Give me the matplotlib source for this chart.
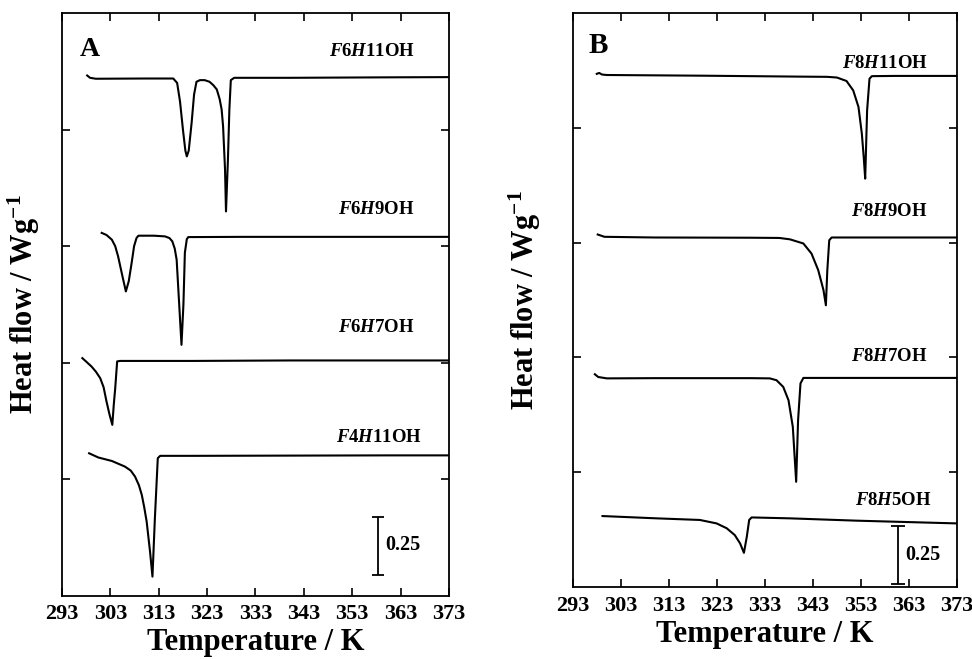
import matplotlib
matplotlib.use("Agg")
import matplotlib.pyplot as plt

plt.rcParams['font.family'] = ['Liberation Serif', 'DejaVu Serif']
plt.rcParams['font.weight'] = 'bold'
plt.rcParams['mathtext.fontset'] = 'custom'
plt.rcParams['mathtext.rm'] = 'Liberation Serif:bold'
plt.rcParams['mathtext.bf'] = 'Liberation Serif:bold'
plt.rcParams['mathtext.it'] = 'Liberation Serif:italic:bold'

# temperatures (K) and heat flow (W/g, offset)
# panel A
f6h11_t = [298.2, 298.8, 300.0, 310.0, 316.0, 316.8, 317.4, 318.0, 318.5, 318.8, 319.2, 319.8,
           320.3, 320.8, 321.5, 322.5, 323.5, 324.3, 325.0, 325.6, 326.0, 326.3, 326.7, 326.9,
           327.3, 327.6, 327.9, 328.6, 340.0, 360.0, 373.0]
f6h11_q = [2.232, 2.222, 2.218, 2.219, 2.219, 2.20, 2.12, 2.00, 1.91, 1.885, 1.91, 2.03,
           2.15, 2.205, 2.212, 2.212, 2.205, 2.19, 2.172, 2.13, 2.086, 2.014, 1.83, 1.649,
           1.87, 2.086, 2.212, 2.222, 2.222, 2.224, 2.225]

f6h9_t = [301.2, 302.2, 303.3, 304.0, 304.6, 305.4, 306.2, 306.8, 307.4, 307.9, 308.4, 308.8,
          312.0, 314.3, 315.2, 315.8, 316.3, 316.7, 317.2, 317.7, 318.1, 318.4, 318.8, 319.1,
          330.0, 350.0, 373.0]
f6h9_q = [1.557, 1.548, 1.528, 1.50, 1.456, 1.38, 1.306, 1.35, 1.429, 1.50, 1.535, 1.545,
          1.545, 1.542, 1.535, 1.521, 1.49, 1.442, 1.26, 1.077, 1.25, 1.472, 1.53, 1.539,
          1.540, 1.540, 1.540]

f6h7_t = [297.2, 298.0, 299.1, 300.0, 300.9, 301.6, 302.2, 302.8, 303.4, 303.7, 304.0, 304.4,
          305.0, 320.0, 340.0, 373.0]
f6h7_q = [1.020, 1.005, 0.984, 0.962, 0.934, 0.895, 0.834, 0.78, 0.734, 0.82, 0.891, 1.006,
          1.008, 1.008, 1.010, 1.010]

f4h11_t = [298.6, 300.5, 303.3, 306.0, 307.2, 308.1, 308.9, 309.5, 310.0, 310.5, 311.2, 311.7,
           312.2, 312.8, 313.3, 320.0, 340.0, 360.0, 373.0]
f4h11_q = [0.612, 0.594, 0.579, 0.555, 0.538, 0.512, 0.475, 0.433, 0.38, 0.319, 0.190, 0.083,
           0.333, 0.591, 0.601, 0.601, 0.602, 0.603, 0.603]

# panel B
f8h11_t = [297.9, 298.4, 299.0, 300.0, 320.0, 340.0, 346.0, 348.0, 350.0, 351.4, 352.5, 353.2,
           353.6, 353.9, 354.3, 354.8, 355.3, 360.0, 373.0]
f8h11_q = [2.234, 2.238, 2.231, 2.229, 2.226, 2.222, 2.221, 2.218, 2.203, 2.162, 2.090, 1.974,
           1.87, 1.778, 2.075, 2.213, 2.224, 2.225, 2.225]

f8h9_t = [298.1, 299.5, 310.0, 330.0, 336.0, 338.2, 341.0, 342.7, 344.1, 345.2, 345.7, 346.0,
          346.4, 346.9, 355.0, 373.0]
f8h9_q = [1.535, 1.525, 1.522, 1.521, 1.520, 1.514, 1.496, 1.452, 1.380, 1.293, 1.227, 1.380,
          1.51, 1.522, 1.522, 1.522]

f8h7_t = [297.5, 298.2, 300.0, 310.0, 330.0, 334.0, 335.4, 336.8, 337.9, 338.8, 339.5, 339.9,
          340.4, 341.0, 350.0, 373.0]
f8h7_q = [0.927, 0.915, 0.909, 0.910, 0.910, 0.909, 0.901, 0.872, 0.814, 0.698, 0.459, 0.727,
          0.887, 0.911, 0.911, 0.911]

f8h5_t = [299.1, 310.4, 319.4, 322.9, 325.0, 326.7, 327.8, 328.6, 329.2, 329.7, 330.2, 338.2,
          352.0, 373.0]
f8h5_q = [0.310, 0.300, 0.293, 0.278, 0.257, 0.227, 0.191, 0.150, 0.220, 0.293, 0.304, 0.300,
          0.290, 0.278]

names_a = [r'$\mathit{F}\mathrm{6}\mathit{H}\mathrm{11OH}$', r'$\mathit{F}\mathrm{6}\mathit{H}\mathrm{9OH}$',
           r'$\mathit{F}\mathrm{6}\mathit{H}\mathrm{7OH}$', r'$\mathit{F}\mathrm{4}\mathit{H}\mathrm{11OH}$']
names_b = [r'$\mathit{F}\mathrm{8}\mathit{H}\mathrm{11OH}$', r'$\mathit{F}\mathrm{8}\mathit{H}\mathrm{9OH}$',
           r'$\mathit{F}\mathrm{8}\mathit{H}\mathrm{7OH}$', r'$\mathit{F}\mathrm{8}\mathit{H}\mathrm{5OH}$']
label_xy_a = [(366.0, 2.336), (366.0, 1.657), (366.0, 1.150), (367.4, 0.678)]
label_xy_b = [(367.0, 2.278), (367.0, 1.637), (367.0, 1.006), (367.8, 0.377)]

xticks = list(range(293, 374, 10))
yticks = [0.5, 1.0, 1.5, 2.0]

fig = plt.figure(figsize=(9.72, 6.59), dpi=100)
ax_a = fig.add_axes([0.0638, 0.0956, 0.3981, 0.8847])
ax_b = fig.add_axes([0.5898, 0.1088, 0.3945, 0.8719])


def style(ax):
    ax.set_xlim(293, 373)
    ax.set_ylim(0, 2.5)
    ax.set_xticks(xticks)
    ax.set_yticks(yticks)
    ax.set_yticklabels([])
    ax.tick_params(direction='in', length=6, width=1.2, top=True, right=True,
                   labelsize=16, pad=6)
    for lab in ax.get_xticklabels():
        lab.set_fontweight('bold')
    for s in ax.spines.values():
        s.set_linewidth(1.3)
    ax.set_xlabel('Temperature / K', fontsize=22, fontweight='bold', labelpad=3)
    ax.set_ylabel(r'Heat flow / Wg$^{\mathrm{-1}}$', fontsize=22, fontweight='bold')


for ax in (ax_a, ax_b):
    style(ax)

for t, q in [(f6h11_t, f6h11_q), (f6h9_t, f6h9_q), (f6h7_t, f6h7_q), (f4h11_t, f4h11_q)]:
    ax_a.plot(t, q, color='black', lw=1.5, solid_joinstyle='round')
for t, q in [(f8h11_t, f8h11_q), (f8h9_t, f8h9_q), (f8h7_t, f8h7_q), (f8h5_t, f8h5_q)]:
    ax_b.plot(t, q, color='black', lw=1.5, solid_joinstyle='round')

for name, (x, y) in zip(names_a, label_xy_a):
    ax_a.text(x, y, name, fontsize=13.5, ha='right', va='center')
for name, (x, y) in zip(names_b, label_xy_b):
    ax_b.text(x, y, name, fontsize=13.5, ha='right', va='center')

ax_a.text(296.7, 2.343, 'A', fontsize=20, fontweight='bold', ha='left', va='center')
ax_b.text(296.1, 2.358, 'B', fontsize=21, fontweight='bold', ha='left', va='center')

# 0.25 W/g scale bars
ax_a.errorbar([358.3], [0.215], yerr=[0.125], color='black', lw=1.3, capsize=4.5, capthick=1.3)
ax_a.text(359.8, 0.219, '0.25', fontsize=14.5, fontweight='bold', ha='left', va='center')
ax_b.errorbar([360.8], [0.14], yerr=[0.125], color='black', lw=1.3, capsize=5, capthick=1.3)
ax_b.text(362.2, 0.14, '0.25', fontsize=14.5, fontweight='bold', ha='left', va='center')

ax_a.yaxis.set_label_coords(-0.052, 0.5)
ax_b.yaxis.set_label_coords(-0.079, 0.5)

fig.savefig('out.png', dpi=100)
